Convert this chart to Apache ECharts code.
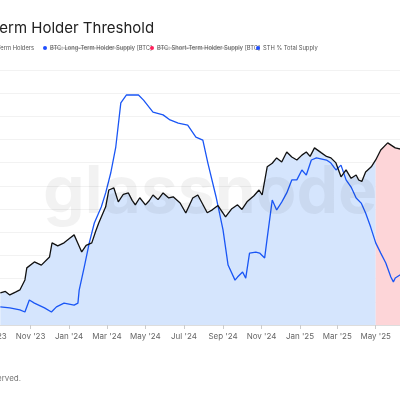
<!DOCTYPE html>
<html><head><meta charset="utf-8">
<script src="https://cdn.jsdelivr.net/npm/echarts@6/dist/echarts.min.js"></script>
<style>html,body{margin:0;padding:0;width:400px;height:400px;overflow:hidden;background:#fff;position:relative}
#c{position:absolute;left:-110px;top:0;width:540px;height:400px}</style>
</head><body><div id="c"></div>
<script>
const priceDates=['2023-09-14','2023-09-22','2023-09-29','2023-10-08','2023-10-15','2023-10-23','2023-10-26','2023-11-07','2023-11-18','2023-12-01','2023-12-05','2023-12-14','2023-12-24','2024-01-03','2024-01-09','2024-01-14','2024-01-21','2024-01-28','2024-02-06','2024-02-12','2024-02-17','2024-02-28','2024-03-04','2024-03-12','2024-03-19','2024-03-27','2024-04-04','2024-04-10','2024-04-15','2024-04-22','2024-05-01','2024-05-07','2024-05-13','2024-05-21','2024-05-29','2024-06-07','2024-06-14','2024-06-25','2024-07-04','2024-07-15','2024-07-23','2024-08-03','2024-08-07','2024-08-15','2024-08-24','2024-09-05','2024-09-15','2024-09-24','2024-10-01','2024-10-09','2024-10-20','2024-10-28','2024-11-02','2024-11-10','2024-11-18','2024-11-25','2024-12-03','2024-12-11','2024-12-19','2024-12-27','2025-01-04','2025-01-11','2025-01-17','2025-01-24','2025-02-04','2025-02-12','2025-02-19','2025-02-27','2025-03-07','2025-03-15','2025-03-23','2025-03-31','2025-04-04','2025-04-09','2025-04-15','2025-04-24','2025-05-01','2025-05-09','2025-05-20','2025-06-01','2025-06-14'];
const priceValues=[29.8,30.6,28.7,30.2,31.4,36.8,43.3,46.5,44.8,49.2,56.8,55.2,56.8,59.5,61.1,57.3,51.9,55.4,56.8,62.9,67.5,76.2,85.3,86.4,78.9,83.0,83.7,79.7,77.3,81.1,77.3,79.5,82.6,80.1,83.7,81.0,81.6,78.3,72.9,81,82.6,75.6,73.0,74.6,76.9,70.8,75.2,77.3,74.8,78.9,82.2,85.3,82.6,97.8,99.7,102.6,100.4,105.8,103.1,101.5,104.1,105.8,103.4,108,105.3,103.4,102.6,99.9,92.4,96.1,91.6,93.4,90.7,89.9,95,97.8,101.5,106.9,110.7,108,107];
const sthDates=['2023-09-14','2023-09-29','2023-10-15','2023-10-23','2023-10-30','2023-11-07','2023-11-23','2023-12-04','2023-12-12','2023-12-24','2024-01-09','2024-01-15','2024-01-17','2024-01-25','2024-02-02','2024-02-10','2024-02-21','2024-02-28','2024-03-07','2024-03-15','2024-03-23','2024-04-01','2024-04-20','2024-04-28','2024-05-13','2024-05-29','2024-06-09','2024-06-22','2024-07-07','2024-07-20','2024-07-23','2024-07-31','2024-08-08','2024-08-21','2024-09-01','2024-09-09','2024-09-20','2024-09-24','2024-10-02','2024-10-07','2024-10-13','2024-10-23','2024-10-29','2024-11-06','2024-11-10','2024-11-18','2024-11-25','2024-12-03','2024-12-11','2024-12-19','2024-12-27','2025-01-04','2025-01-11','2025-01-19','2025-01-27','2025-02-12','2025-02-19','2025-02-27','2025-03-07','2025-03-15','2025-03-23','2025-03-31','2025-04-08','2025-04-15','2025-04-23','2025-05-01','2025-05-09','2025-05-17','2025-05-25','2025-05-29','2025-06-01','2025-06-14'];
const sthValues=[7.1,6.7,5.9,5.1,9.8,8.6,6.7,5.1,7.1,8.6,7.8,8.6,13.7,22.7,32.2,40,46.3,51.8,59.6,69.8,87.1,90.2,90.2,88.2,83.5,82.4,80.4,79.2,78.4,73.7,73.3,72.5,63.5,50.2,37.3,23.5,17.6,18.8,20.8,18.4,28.2,28.6,28.2,26.3,34.1,49,45.1,48.2,51.8,56.9,56.9,60.8,58.8,64.7,65.5,64.7,63.5,60.8,62.7,56.9,54.1,49.8,47.8,43.9,38.4,32.2,28.2,24.3,18.8,16.9,18.4,20.5];
const tickMonths=['2023-09-01','2023-11-01','2024-01-01','2024-03-01','2024-05-01','2024-07-01','2024-09-01','2024-11-01','2025-01-01','2025-03-01','2025-05-01','2025-07-01'];
const regimeStart='2025-05-01';

const T=d=>Date.parse(d+'T00:00:00Z');
const pricePairs=priceDates.map((d,i)=>[T(d),priceValues[i]*1000]);
const bluePairs=pricePairs.filter(p=>p[0]<=T(regimeStart));
const redPairs=pricePairs.filter(p=>p[0]>=T(regimeStart));
const sthPairs=sthDates.map((d,i)=>[T(d),sthValues[i]]);
const mon=['Jan','Feb','Mar','Apr','May','Jun','Jul','Aug','Sep','Oct','Nov','Dec'];
const ticks=tickMonths.map(T);
const chart=echarts.init(document.getElementById('c'),null,{renderer:'canvas'});
const FS=5.8;
const lg=(x,color,text,strike,w)=>[
 {type:'circle',shape:{cx:x,cy:48,r:2},style:{fill:color}},
 {type:'text',x:x+5,y:45,style:{text:text,fontSize:FS,fill:'#555',fontFamily:'Inter'}},
 ...(strike?[{type:'line',shape:{x1:x+5,y1:48,x2:x+5+w,y2:48},style:{stroke:'#666',lineWidth:0.5}}]:[])
];
chart.setOption({
 animation:false,
 title:{text:'Short-Term Holder Threshold',left:52,top:16,textStyle:{fontSize:15,fontWeight:'normal',color:'#222',fontFamily:'Inter'}},
 graphic:[
  {type:'text',x:153,y:160,z:100,style:{text:'glassnode',fontSize:66,fontWeight:'bold',fill:'rgba(0,0,0,0.05)',fontFamily:'Inter'}},
  {type:'text',x:144,y:45,style:{text:'BTC: Price Short-Term Holders',align:'right',fontSize:FS,fill:'#555',fontFamily:'Inter'}},
  ...lg(155,'#1f4fff','BTC: Long-Term Holder Supply [BTC]',true,83),
  ...lg(262,'#ff1f5a','BTC: Short-Term Holder Supply [BTC]',true,85),
  ...lg(368,'#1f4fff','STH % Total Supply',false,0),
  {type:'text',x:131,y:375,style:{text:'© 2025 Glassnode. All Rights Reserved.',align:'right',fontSize:8,fill:'#777',fontFamily:'Inter'}}
 ],
 grid:{left:63,right:2,top:70,bottom:75},
 xAxis:{type:'value',min:T('2023-07-01'),max:T('2025-07-15'),
  axisLine:{lineStyle:{color:'#ddd'}},
  axisTick:{show:true,customValues:ticks,lineStyle:{color:'#ccc'},length:4},
  axisLabel:{customValues:ticks,fontSize:8,color:'#666',margin:8,fontFamily:'Inter',
   formatter:v=>{const d=new Date(v);return mon[d.getUTCMonth()]+" '"+String(d.getUTCFullYear()).slice(2);}},
  splitLine:{show:false}},
 yAxis:[
  {type:'value',min:12500,max:150000,interval:12500,axisLabel:{show:false},axisLine:{show:false},axisTick:{show:false},splitLine:{lineStyle:{color:'#f2f2f2'}}},
  {type:'value',min:0,max:100,show:false,splitLine:{show:false}}
 ],
 series:[
  {type:'line',data:bluePairs,yAxisIndex:0,symbol:'none',lineStyle:{width:0},areaStyle:{color:'#d5e5fd',opacity:1},z:1},
  {type:'line',data:redPairs,yAxisIndex:0,symbol:'none',lineStyle:{width:0},areaStyle:{color:'#fdd5d8',opacity:1},z:1},
  {type:'line',data:sthPairs,yAxisIndex:1,symbol:'none',lineStyle:{width:1.3,color:'#1a56f5'},z:3},
  {type:'line',data:pricePairs,yAxisIndex:0,symbol:'none',lineStyle:{width:1.3,color:'#111'},z:4}
 ]
});
</script></body></html>
